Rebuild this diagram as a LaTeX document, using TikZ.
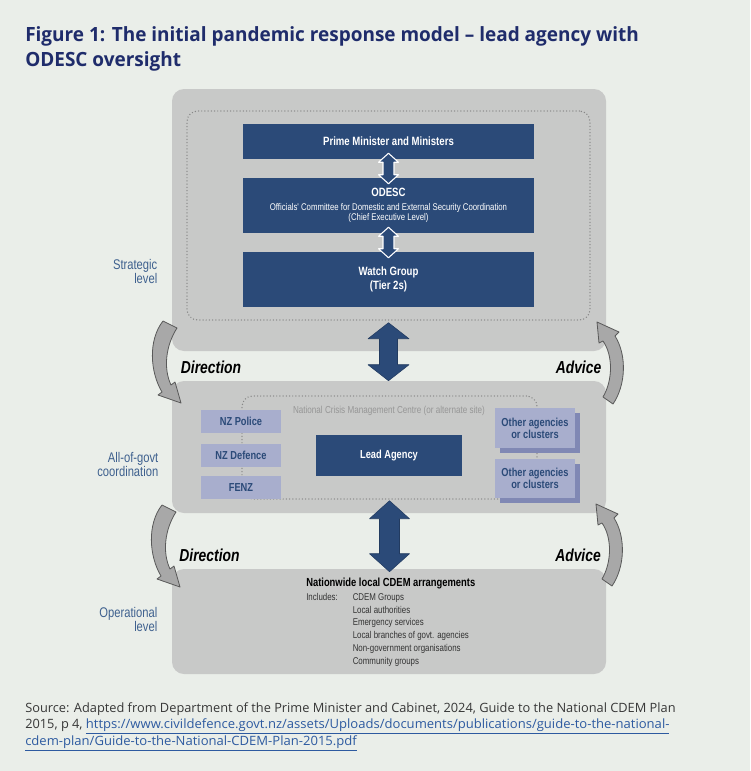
\documentclass[tikz,border=0pt]{standalone}
\usepackage{fontspec}
\setmainfont{Open Sans}
\newfontfamily\titlefont[FakeStretch=0.968]{Open Sans}
\newfontfamily\linkfont[FakeStretch=1.02]{Open Sans}
\newfontfamily\narrow[FakeStretch=0.8]{Liberation Sans}
\usetikzlibrary{calc,fit,shadows}

\definecolor{paper}{RGB}{234,238,233}
\definecolor{panelgrey}{RGB}{200,201,200}
\definecolor{dotgrey}{RGB}{135,135,135}
\definecolor{boxblue}{RGB}{43,74,120}
\definecolor{lilac}{RGB}{168,174,205}
\definecolor{lilacdark}{RGB}{128,136,180}
\definecolor{navy}{RGB}{31,44,107}
\definecolor{tierblue}{RGB}{62,96,142}
\definecolor{curlgrey}{RGB}{168,168,168}
\definecolor{linkblue}{RGB}{45,90,160}
\definecolor{srcgrey}{RGB}{55,55,55}
\definecolor{ncmcgrey}{RGB}{150,150,150}

% up and down arrow between two points on one vertical
\newcommand\twoway[6]{%
  \filldraw[#6] (#1) -- ($(#1)+(#4,#5)$) -- ($(#1)+(#3,#5)$) -- ($(#2)+(#3,-#5)$)
    -- ($(#2)+(#4,-#5)$) -- (#2) -- ($(#2)+(-#4,-#5)$) -- ($(#2)+(-#3,-#5)$)
    -- ($(#1)+(-#3,#5)$) -- ($(#1)+(-#4,#5)$) -- cycle;}
\newcommand\odescsub{\mdseries\fontsize{7.3}{7.5}\selectfont}

\tikzset{
  curldown/.pic={\filldraw[curl] (0,0) -- (14,7) .. controls (3,24) and (0,47) .. (8,64)
    -- (12,61) -- (18,82) -- (-5,74) -- (-1,71) .. controls (-13,51) and (-15,19) .. (0,0) -- cycle;},
  curlup/.pic={\filldraw[curl] (0,0) -- (10,7) .. controls (23,-12) and (24,-42) .. (12,-61)
    -- (16,-65) -- (-6,-75) -- (-4,-54) -- (0,-56) .. controls (10,-42) and (10,-17) .. (0,0) -- cycle;}
}

\begin{document}
\begin{tikzpicture}[x=0.75pt, y=-0.75pt, line join=round,
  wh/.style 2 args={minimum width=#1*0.75pt, minimum height=#2*0.75pt},
  panel/.style={fill=panelgrey, rounded corners=9pt, inner sep=0pt},
  zone/.style={draw=dotgrey, line width=1.1pt, dash pattern=on 0pt off 2.4pt, line cap=round, rounded corners=8pt, inner sep=0pt},
  bluebox/.style={fill=boxblue, text=white, inner sep=0pt, align=center, font=\narrow\bfseries\fontsize{9}{11}\selectfont},
  agency/.style={fill=lilac, text=boxblue, inner sep=0pt, align=center, font=\narrow\bfseries\fontsize{8.7}{9}\selectfont},
  others/.style={agency, copy shadow={fill=lilacdark, draw=none, shadow xshift=3.75pt, shadow yshift=-3.75pt}},
  tiername/.style={text=tierblue, align=right, anchor=east, font=\narrow\fontsize{10.5}{10.5}\selectfont},
  cue/.style={font=\narrow\bfseries\itshape\fontsize{13}{13}\selectfont},
  item/.style={anchor=base west, inner sep=0pt, text=black!80, font=\narrow\fontsize{7.4}{9}\selectfont},
  source/.style={anchor=base west, inner sep=0pt, text=srcgrey, font=\fontsize{9.6}{12}\selectfont},
  bigarrow/.style={fill=boxblue, draw=boxblue!80!black, line width=0.4pt},
  smallarrow/.style={fill=boxblue, draw=white, line width=0.8pt},
  curl/.style={fill=curlgrey, draw=black!65, line width=0.6pt}]

\useasboundingbox[fill=paper] (0,0) rectangle (750,771);

% title
\node[anchor=base west, inner sep=0pt, text=navy, font=\titlefont\bfseries\fontsize{14.7}{18}\selectfont] (title1) at (25,41)
  {Figure 1: The initial pandemic response model – lead agency with};
\node[anchor=base west, inner sep=0pt, text=navy, font=\titlefont\bfseries\fontsize{14.7}{18}\selectfont] (title2) at (25,66)
  {ODESC oversight};

% three levels
\node[panel, fit={(172,89) (606,351)}] (strat) {};
\node[panel, fit={(172,381) (606,513)}] (aog) {};
\node[panel, fit={(172,569) (606,674)}] (ops) {};
\node[zone, fit={(187,111) (590,320)}] (stratzone) {};
\node[zone, fit={(242,396) (537,499)}] (aogzone) {};

\node[tiername] (stratname) at (162,271) {Strategic\\level};
\node[tiername] (aogname) at (163,464) {All-of-govt\\coordination};
\node[tiername] (opsname) at (162,619) {Operational\\level};

% strategic
\node[bluebox, wh={291}{35}] (pm) at (388.5,141.5) {Prime Minister and Ministers};
\node[bluebox, wh={291}{55}] (odesc) at (388.5,205.5)
  {ODESC\\[-0.5pt] \odescsub Officials' Committee for Domestic and External Security Coordination\\[-3.5pt] \odescsub (Chief Executive Level)};
\node[bluebox, wh={291}{55}] (watch) at (388.5,279.5) {Watch Group\\(Tier 2s)};

\coordinate (s1) at ($(pm.south)+(0,-6)$);
\coordinate (e1) at ($(odesc.north)+(0,6)$);
\coordinate (s2) at ($(odesc.south)+(0,-6)$);
\coordinate (e2) at ($(watch.north)+(0,6)$);
\twoway{s1}{e1}{5.5}{10}{9}{smallarrow}
\twoway{s2}{e2}{5.5}{10}{9}{smallarrow}

% all-of-govt
\node[ncmcgrey, font=\narrow\fontsize{7.6}{9}\selectfont] (ncmc) at (389,411)
  {National Crisis Management Centre (or alternate site)};
\node[agency, wh={80}{23}] (police) at (241,421.5) {NZ Police};
\node[agency, wh={80}{23}] (defence) at (241,455.5) {NZ Defence};
\node[agency, wh={80}{23}] (fenz) at (241,487.5) {FENZ};
\node[others, wh={80}{40}] (other1) at (535,428) {Other agencies\\or clusters};
\node[others, wh={80}{39}] (other2) at (535,478.5) {Other agencies\\or clusters};
\node[bluebox, font=\narrow\bfseries\fontsize{8.7}{9}\selectfont, wh={146}{41}] (lead) at (389,455.5) {Lead Agency};

% operational
\node[anchor=base west, inner sep=0pt, font=\narrow\bfseries\fontsize{8.8}{10}\selectfont] (opshead) at (306,586.3)
  {Nationwide local CDEM arrangements};
\node[item] (incl) at (306,600.5) {Includes:};
\foreach \t [count=\i] in {CDEM Groups, Local authorities, Emergency services,
  Local branches of govt. agencies, Non-government organisations, Community groups}
  \node[item] (item\i) at (352.5,587.8+12.7*\i) {\t};

% links between levels
\coordinate (u1) at ($(stratzone.south)+(0,2)$);
\coordinate (d1) at (u1 |- aog.north);
\coordinate (u2) at ($(aogzone.south)+(0,1)$);
\coordinate (d2) at ($(u2 |- ops.north)+(0,3)$);
\twoway{u1}{d1}{9}{20.5}{16}{bigarrow}
\twoway{u2}{d2}{10}{20}{18}{bigarrow}

\pic at (163,321) {curldown};
\pic at (162,505) {curldown};
\pic at (603,397) {curlup};
\pic at (602,579) {curlup};
\node[cue] (dir1) at (211,367) {Direction};
\node[cue] (adv1) at (578.5,367) {Advice};
\node[cue] (dir2) at (209.5,555) {Direction};
\node[cue] (adv2) at (578,555) {Advice};

% source
\node[source] (src1) at (25,712)
  {Source: Adapted from Department of the Prime Minister and Cabinet, 2024, Guide to the National CDEM Plan};
\node[source] (src2) at (25,728)
  {2015, p 4, \textcolor{linkblue}{\linkfont\underline{https://www.civildefence.govt.nz/assets/Uploads/documents/publications/guide-to-the-national-}}};
\node[source] (src3) at (25,745)
  {\textcolor{linkblue}{\linkfont\underline{cdem-plan/Guide-to-the-National-CDEM-Plan-2015.pdf}}};
\end{tikzpicture}
\end{document}
